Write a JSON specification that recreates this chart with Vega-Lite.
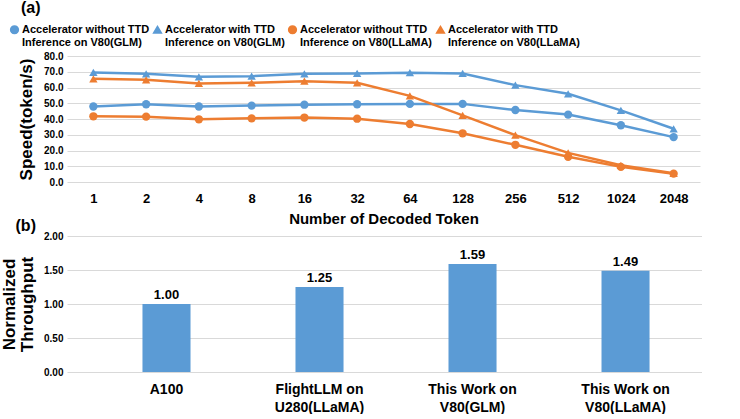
{
  "$schema": "https://vega.github.io/schema/vega-lite/v6.json",
  "background": "white",
  "padding": {"left": 0, "top": 0, "right": 0, "bottom": 0},
  "spacing": -8,
  "resolve": {"scale": {"color": "independent", "shape": "independent"}, "legend": {"color": "independent", "shape": "independent"}},
  "config": {
    "font": "Liberation Sans",
    "view": {"stroke": null},
    "axis": {
      "gridColor": "#d9d9d9",
      "gridWidth": 1,
      "domain": false,
      "ticks": false,
      "labelFontWeight": "bold",
      "titleFontWeight": "bold",
      "labelColor": "#000000",
      "titleColor": "#000000"
    }
  },
  "vconcat": [
    {
      "width": 633,
      "height": 126,
      "title": {"text": "(a)", "anchor": "start", "frame": "bounds", "dx": 12, "fontSize": 16, "fontWeight": "bold", "color": "#000000", "offset": 8},
      "data": {
        "values": [
          {"series": "Accelerator without TTD|Inference on V80(GLM)", "tokens": 1, "speed": 47.9},
          {"series": "Accelerator without TTD|Inference on V80(GLM)", "tokens": 2, "speed": 49.4},
          {"series": "Accelerator without TTD|Inference on V80(GLM)", "tokens": 4, "speed": 47.9},
          {"series": "Accelerator without TTD|Inference on V80(GLM)", "tokens": 8, "speed": 48.5},
          {"series": "Accelerator without TTD|Inference on V80(GLM)", "tokens": 16, "speed": 49.1},
          {"series": "Accelerator without TTD|Inference on V80(GLM)", "tokens": 32, "speed": 49.4},
          {"series": "Accelerator without TTD|Inference on V80(GLM)", "tokens": 64, "speed": 49.6},
          {"series": "Accelerator without TTD|Inference on V80(GLM)", "tokens": 128, "speed": 49.6},
          {"series": "Accelerator without TTD|Inference on V80(GLM)", "tokens": 256, "speed": 45.7},
          {"series": "Accelerator without TTD|Inference on V80(GLM)", "tokens": 512, "speed": 42.8},
          {"series": "Accelerator without TTD|Inference on V80(GLM)", "tokens": 1024, "speed": 36.0},
          {"series": "Accelerator without TTD|Inference on V80(GLM)", "tokens": 2048, "speed": 28.5},
          {"series": "Accelerator with TTD|Inference on V80(GLM)", "tokens": 1, "speed": 69.6},
          {"series": "Accelerator with TTD|Inference on V80(GLM)", "tokens": 2, "speed": 68.7},
          {"series": "Accelerator with TTD|Inference on V80(GLM)", "tokens": 4, "speed": 66.8},
          {"series": "Accelerator with TTD|Inference on V80(GLM)", "tokens": 8, "speed": 67.2},
          {"series": "Accelerator with TTD|Inference on V80(GLM)", "tokens": 16, "speed": 68.7},
          {"series": "Accelerator with TTD|Inference on V80(GLM)", "tokens": 32, "speed": 68.9},
          {"series": "Accelerator with TTD|Inference on V80(GLM)", "tokens": 64, "speed": 69.4},
          {"series": "Accelerator with TTD|Inference on V80(GLM)", "tokens": 128, "speed": 68.9},
          {"series": "Accelerator with TTD|Inference on V80(GLM)", "tokens": 256, "speed": 61.5},
          {"series": "Accelerator with TTD|Inference on V80(GLM)", "tokens": 512, "speed": 56.0},
          {"series": "Accelerator with TTD|Inference on V80(GLM)", "tokens": 1024, "speed": 45.5},
          {"series": "Accelerator with TTD|Inference on V80(GLM)", "tokens": 2048, "speed": 33.8},
          {"series": "Accelerator without TTD|Inference on V80(LLaMA)", "tokens": 1, "speed": 41.7},
          {"series": "Accelerator without TTD|Inference on V80(LLaMA)", "tokens": 2, "speed": 41.5},
          {"series": "Accelerator without TTD|Inference on V80(LLaMA)", "tokens": 4, "speed": 39.8},
          {"series": "Accelerator without TTD|Inference on V80(LLaMA)", "tokens": 8, "speed": 40.4},
          {"series": "Accelerator without TTD|Inference on V80(LLaMA)", "tokens": 16, "speed": 40.9},
          {"series": "Accelerator without TTD|Inference on V80(LLaMA)", "tokens": 32, "speed": 40.2},
          {"series": "Accelerator without TTD|Inference on V80(LLaMA)", "tokens": 64, "speed": 36.8},
          {"series": "Accelerator without TTD|Inference on V80(LLaMA)", "tokens": 128, "speed": 30.9},
          {"series": "Accelerator without TTD|Inference on V80(LLaMA)", "tokens": 256, "speed": 23.6},
          {"series": "Accelerator without TTD|Inference on V80(LLaMA)", "tokens": 512, "speed": 16.0},
          {"series": "Accelerator without TTD|Inference on V80(LLaMA)", "tokens": 1024, "speed": 9.6},
          {"series": "Accelerator without TTD|Inference on V80(LLaMA)", "tokens": 2048, "speed": 5.3},
          {"series": "Accelerator with TTD|Inference on V80(LLaMA)", "tokens": 1, "speed": 65.5},
          {"series": "Accelerator with TTD|Inference on V80(LLaMA)", "tokens": 2, "speed": 64.9},
          {"series": "Accelerator with TTD|Inference on V80(LLaMA)", "tokens": 4, "speed": 62.6},
          {"series": "Accelerator with TTD|Inference on V80(LLaMA)", "tokens": 8, "speed": 63.0},
          {"series": "Accelerator with TTD|Inference on V80(LLaMA)", "tokens": 16, "speed": 64.0},
          {"series": "Accelerator with TTD|Inference on V80(LLaMA)", "tokens": 32, "speed": 63.0},
          {"series": "Accelerator with TTD|Inference on V80(LLaMA)", "tokens": 64, "speed": 54.7},
          {"series": "Accelerator with TTD|Inference on V80(LLaMA)", "tokens": 128, "speed": 42.3},
          {"series": "Accelerator with TTD|Inference on V80(LLaMA)", "tokens": 256, "speed": 29.8},
          {"series": "Accelerator with TTD|Inference on V80(LLaMA)", "tokens": 512, "speed": 18.5},
          {"series": "Accelerator with TTD|Inference on V80(LLaMA)", "tokens": 1024, "speed": 10.6},
          {"series": "Accelerator with TTD|Inference on V80(LLaMA)", "tokens": 2048, "speed": 5.5}
        ]
      },
      "encoding": {
        "x": {
          "field": "tokens",
          "type": "ordinal",
          "scale": {"padding": 0.5},
          "axis": {"title": "Number of Decoded Token", "labelAngle": 0, "labelFontSize": 13, "labelPadding": 10, "titleFontSize": 15, "titlePadding": 6, "grid": false}
        },
        "y": {
          "field": "speed",
          "type": "quantitative",
          "scale": {"domain": [0, 80], "nice": false},
          "axis": {"title": "Speed(token/s)", "values": [0, 10, 20, 30, 40, 50, 60, 70, 80], "format": ".1f", "labelFontSize": 10, "labelPadding": 4, "titleFontSize": 17, "titlePadding": 8}
        },
        "color": {
          "field": "series",
          "type": "nominal",
          "scale": {
            "domain": ["Accelerator without TTD|Inference on V80(GLM)", "Accelerator with TTD|Inference on V80(GLM)", "Accelerator without TTD|Inference on V80(LLaMA)", "Accelerator with TTD|Inference on V80(LLaMA)"],
            "range": ["#5B9BD5", "#5B9BD5", "#ED7D31", "#ED7D31"]
          },
          "legend": {
            "title": null,
            "orient": "none",
            "legendX": -58,
            "legendY": -32,
            "direction": "horizontal",
            "columns": 4,
            "columnPadding": 0,
            "labelExpr": "split(datum.label, '|')",
            "labelFont": "Liberation Sans",
            "labelFontSize": 11,
            "labelFontWeight": "bold",
            "labelColor": "#000000",
            "labelLineHeight": 16,
            "labelOffset": 2,
            "labelLimit": 300,
            "symbolSize": 60
          }
        }
      },
      "layer": [
        {"mark": {"type": "line", "strokeWidth": 2.5}},
        {
          "mark": {"type": "point", "filled": true, "opacity": 1, "size": 70},
          "encoding": {
            "shape": {
              "field": "series",
              "type": "nominal",
              "scale": {
                "domain": ["Accelerator without TTD|Inference on V80(GLM)", "Accelerator with TTD|Inference on V80(GLM)", "Accelerator without TTD|Inference on V80(LLaMA)", "Accelerator with TTD|Inference on V80(LLaMA)"],
                "range": ["circle", "triangle-up", "circle", "triangle-up"]
              }
            }
          }
        }
      ]
    },
    {
      "width": 635,
      "height": 136,
      "title": {"text": "(b)", "anchor": "start", "frame": "bounds", "dx": 15, "fontSize": 16, "fontWeight": "bold", "color": "#000000", "offset": -3},
      "data": {
        "values": [
          {"system": "A100", "throughput": 1.00},
          {"system": "FlightLLM on|U280(LLaMA)", "throughput": 1.25},
          {"system": "This Work on|V80(GLM)", "throughput": 1.59},
          {"system": "This Work on|V80(LLaMA)", "throughput": 1.49}
        ]
      },
      "encoding": {
        "x": {
          "field": "system",
          "type": "nominal",
          "sort": null,
          "scale": {"paddingInner": 0.686, "paddingOuter": 0.418, "align": 0.59},
          "axis": {"title": null, "labelAngle": 0, "labelExpr": "split(datum.label, '|')", "labelFontSize": 14, "labelLineHeight": 18, "labelPadding": 10, "grid": false}
        },
        "y": {
          "field": "throughput",
          "type": "quantitative",
          "scale": {"domain": [0, 2], "nice": false},
          "axis": {"title": ["Normalized", "Throughput"], "values": [0, 0.5, 1, 1.5, 2], "format": ".2f", "labelFontSize": 10, "labelPadding": 4, "titleFontSize": 17, "titleLineHeight": 18, "titlePadding": 7}
        }
      },
      "layer": [
        {"mark": {"type": "bar", "color": "#5B9BD5"}},
        {
          "mark": {"type": "text", "dy": -9, "fontSize": 13, "fontWeight": "bold", "color": "#000000"},
          "encoding": {"text": {"field": "throughput", "type": "quantitative", "format": ".2f"}}
        }
      ]
    }
  ]
}
